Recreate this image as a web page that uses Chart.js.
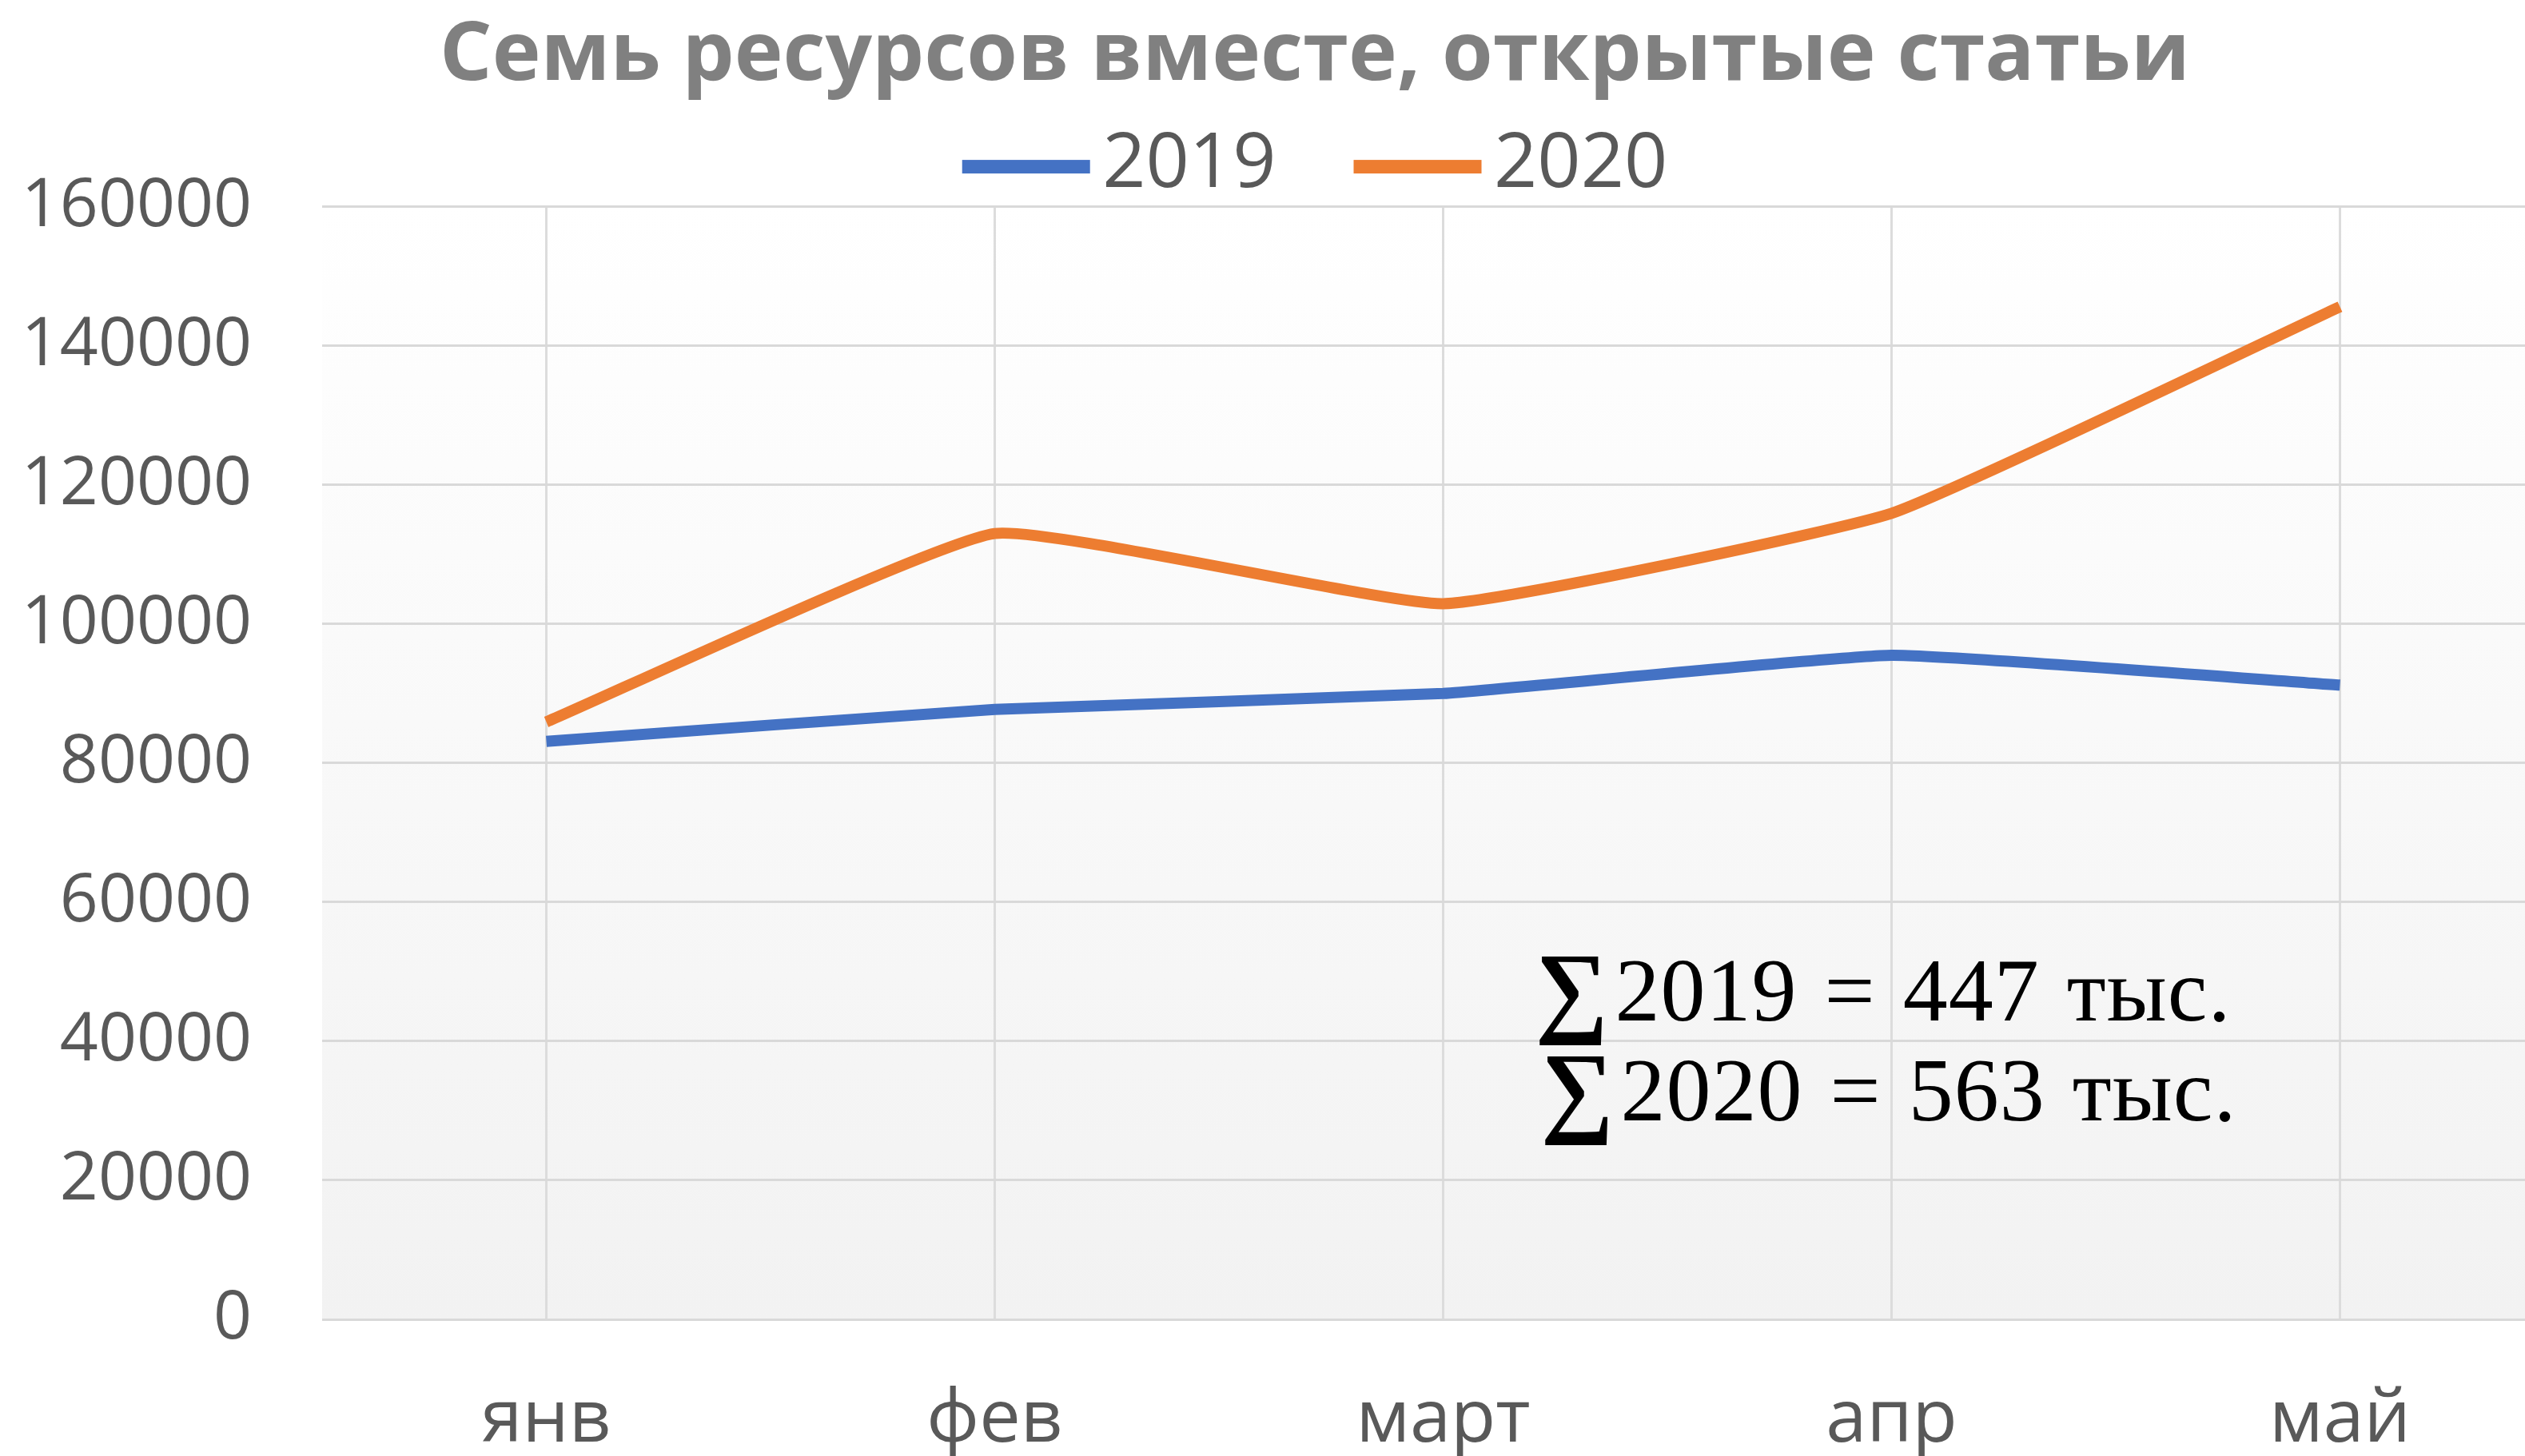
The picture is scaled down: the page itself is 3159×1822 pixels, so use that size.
<!DOCTYPE html>
<html lang="ru">
<head>
<meta charset="utf-8">
<title>Семь ресурсов вместе, открытые статьи</title>
<script src="https://cdn.jsdelivr.net/npm/chart.js@4.4.1/dist/chart.umd.min.js"></script>
<style>
  html, body { margin: 0; padding: 0; background: #fff; overflow: hidden; }
  #wrap { width: 3268px; height: 1845px; }
</style>
</head>
<body>
<div id="wrap"><canvas id="chart" width="3268" height="1845"></canvas></div>
<script>
const months = ['янв', 'фев', 'март', 'апр', 'май'];
const values2019 = [83100, 87700, 90000, 95500, 91200];
const values2020 = [85900, 113000, 102900, 115900, 145600];
const yTicks = [0, 20000, 40000, 60000, 80000, 100000, 120000, 140000, 160000];
const sumLines = ['2019 = 447 тыс.', '2020 = 563 тыс.'];

const BLUE = '#4472C4';
const ORANGE = '#ED7D31';
const CANVAS_H = 1845;
const PLOT_BOTTOM = 1651;

Chart.defaults.font.family = '"Open Sans", sans-serif';

// plot area: white at the top fading to light grey at the bottom
const plotBackground = {
    id: 'plotBackground',
    beforeDraw(chart) {
        const { ctx, chartArea: a } = chart;
        const g = ctx.createLinearGradient(0, a.top, 0, a.bottom);
        g.addColorStop(0, '#ffffff');
        g.addColorStop(1, '#f2f2f2');
        ctx.save();
        ctx.fillStyle = g;
        ctx.fillRect(a.left, a.top, a.right - a.left, a.bottom - a.top);
        ctx.restore();
    }
};

// long thin legend markers sitting right against the label text
const legendMarkers = {
    id: 'legendMarkers',
    afterDraw(chart) {
        const { ctx, legend } = chart;
        if (!legend || !legend.legendHitBoxes) return;
        ctx.save();
        legend.legendHitBoxes.forEach((box, i) => {
            ctx.fillStyle = chart.data.datasets[i].borderColor;
            ctx.fillRect(box.left, box.top + box.height / 2 - 7, 160, 17);
        });
        ctx.restore();
    }
};

// the two sums written inside the plot
const sumText = {
    id: 'sumText',
    afterDatasetsDraw(chart) {
        const { ctx, scales } = chart;
        const x = scales.x.getPixelForValue(2.205);
        const baselines = [43000, 28600].map(v => scales.y.getPixelForValue(v));
        ctx.save();
        ctx.fillStyle = '#000000';
        ctx.textAlign = 'left';
        ctx.textBaseline = 'alphabetic';
        sumLines.forEach((t, i) => {
            const x0 = x + i * 7;
            const y0 = baselines[i];
            ctx.font = 'bold 128px "Liberation Serif", "DejaVu Serif", serif';
            ctx.fillText('∑', x0, y0 + 4);
            ctx.font = '112px "Liberation Serif", "DejaVu Serif", serif';
            ctx.letterSpacing = '1px';
            ctx.wordSpacing = '5px';
            ctx.fillText(t, x0 + 100, y0);
            ctx.letterSpacing = '0px';
            ctx.wordSpacing = '0px';
        });
        ctx.restore();
    }
};

new Chart(document.getElementById('chart'), {
    type: 'line',
    data: {
        labels: months,
        datasets: [
            {
                label: '2019',
                data: values2019,
                borderColor: BLUE,
                backgroundColor: BLUE,
                borderWidth: 14,
                pointRadius: 0,
                tension: 0.12
            },
            {
                label: '2020',
                data: values2020,
                borderColor: ORANGE,
                backgroundColor: ORANGE,
                borderWidth: 14,
                pointRadius: 0,
                tension: 0.12
            }
        ]
    },
    options: {
        responsive: false,
        animation: false,
        layout: { padding: { left: 22, right: 0, top: 0, bottom: 0 } },
        plugins: {
            title: {
                display: true,
                text: 'Семь ресурсов вместе, открытые статьи',
                color: '#808080',
                font: { size: 103, weight: 'bold' },
                padding: { top: 9, bottom: -70 }
            },
            legend: {
                position: 'top',
                maxHeight: 196,
                labels: {
                    color: '#595959',
                    font: { size: 95 },
                    boxWidth: 128,
                    boxHeight: 17,
                    padding: 97,
                    generateLabels: chart => Chart.defaults.plugins.legend.labels.generateLabels(chart)
                        .map(item => Object.assign(item, { lineWidth: 0, fillStyle: 'rgba(0,0,0,0)' }))
                }
            },
            tooltip: { enabled: false }
        },
        scales: {
            x: {
                offset: true,
                border: { display: false },
                grid: { color: '#dcdcdc', lineWidth: 3, drawTicks: false },
                ticks: { color: '#595959', font: { size: 92 }, padding: 72 },
                afterFit: scale => { scale.height = CANVAS_H - PLOT_BOTTOM; }
            },
            y: {
                min: yTicks[0],
                max: yTicks[yTicks.length - 1],
                border: { display: false },
                grid: { color: '#d9d9d9', lineWidth: 3, drawTicks: false },
                afterBuildTicks: scale => { scale.ticks = yTicks.map(v => ({ value: v })); },
                afterFit: scale => { scale.width = 381; },
                ticks: {
                    color: '#595959',
                    font: { size: 84 },
                    padding: 88,
                    callback: value => String(value)
                }
            },
            // empty strip on the right, the plot runs past the picture edge
            spacer: {
                type: 'linear',
                position: 'right',
                border: { display: false },
                grid: { display: false },
                ticks: { display: false },
                afterFit: scale => { scale.width = 60; }
            }
        }
    },
    plugins: [plotBackground, sumText, legendMarkers]
});
</script>
</body>
</html>
